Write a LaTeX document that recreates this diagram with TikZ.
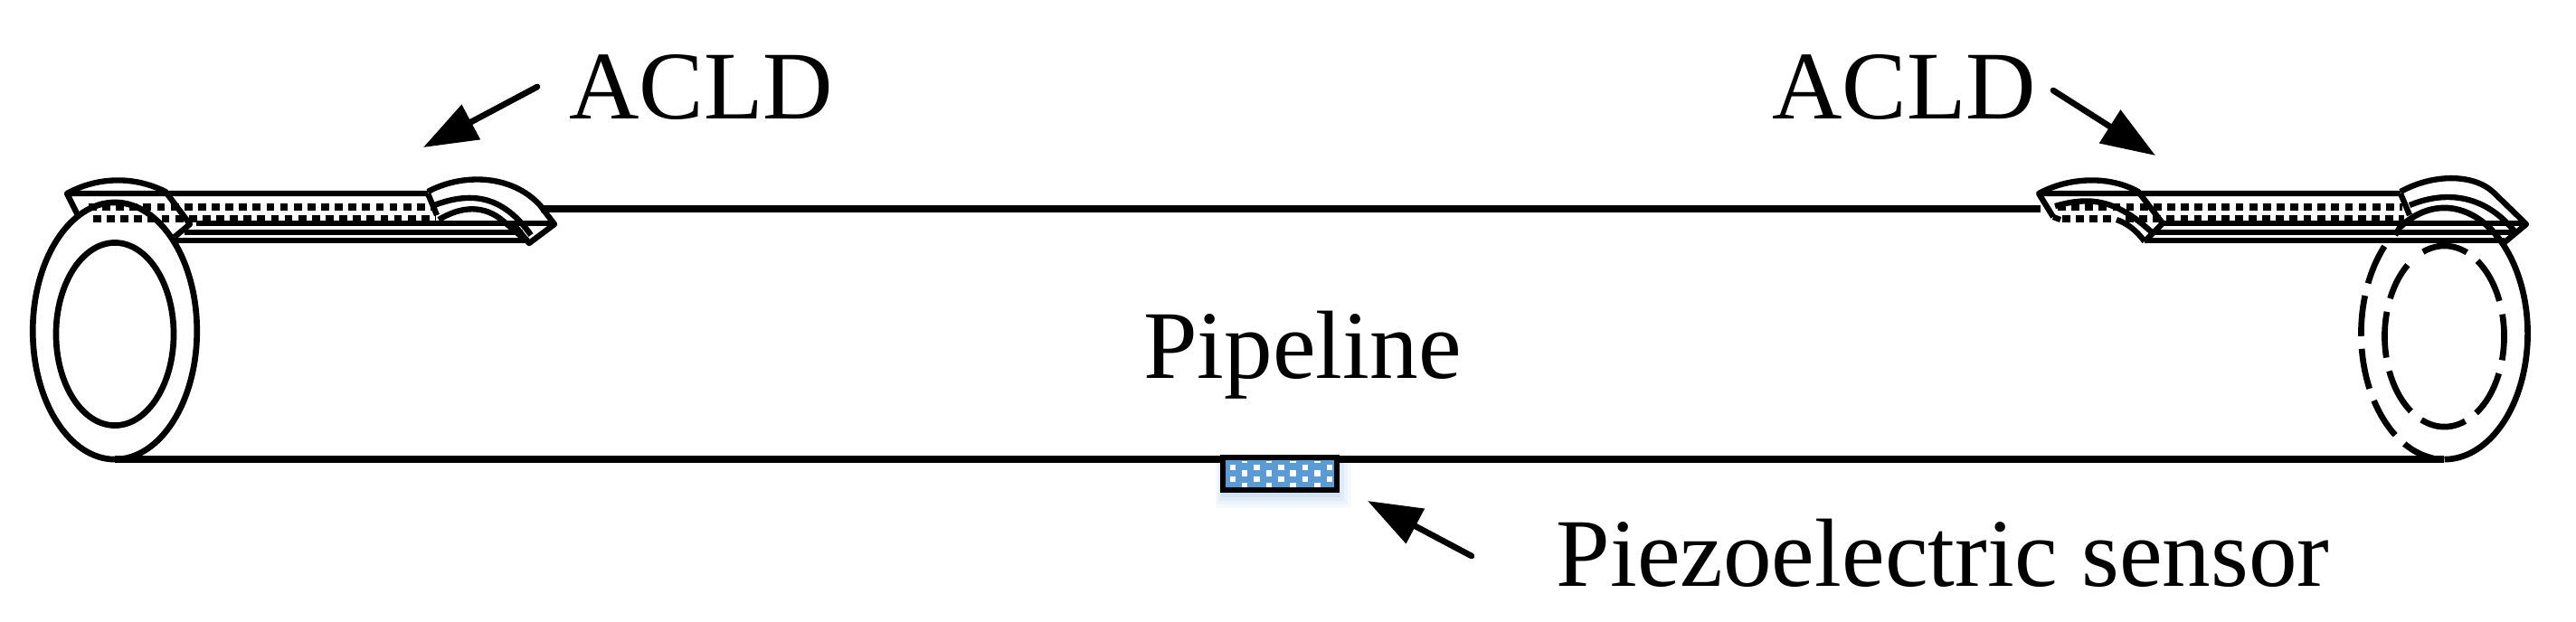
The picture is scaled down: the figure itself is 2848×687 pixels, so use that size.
\documentclass[tikz,border=0pt]{standalone}
\usepackage{fontspec}
\setmainfont{Liberation Serif}
\usetikzlibrary{arrows.meta}
\definecolor{sensorblue}{HTML}{5B9BD5}
\tikzset{
  pipeline/.style={line width=2.2pt,black},
  ringline/.style={line width=1.9pt,black},
  stripline/.style={line width=1.8pt,black,line join=round},
  dotrow/.style={line width=2pt,black,dash pattern=on 2.5pt off 1.8pt},
  dashring/.style={line width=1.9pt,black,dash pattern=on 12.8pt off 4pt},
  dashinner/.style={line width=1.9pt,black,dash pattern=on 14.5pt off 4.3pt},
  pointer/.style={line width=1.9pt,black,line cap=round,-{Triangle[length=17pt,width=12pt]}},
  label/.style={font=\fontsize{30.5pt}{32pt}\selectfont,anchor=base,inner sep=0pt,text=black},
}
\begin{document}
\begin{tikzpicture}[x=0.01cm,y=-0.01cm]
\useasboundingbox (0,0) rectangle (2848,687);
% soft shadow of the sensor
\foreach \g/\o in {16/0.05,12/0.07,8/0.09,4/0.10}
  \fill[sensorblue,opacity=\o] (1352-\g/2,512) rectangle (1478+\g,546+\g);
% pipe
\coordinate (pipeTL) at (598,231);
\coordinate (pipeTR) at (2256,231);
\coordinate (pipeBL) at (127,508);
\coordinate (pipeBR) at (2702,508);
\draw[pipeline] (pipeTL) -- (pipeTR);
\draw[pipeline] (pipeBL) -- (pipeBR);
% left end rings
\draw[ringline] (127,366) ellipse [x radius=0.907cm,y radius=1.42cm];
\draw[ringline] (127,369.5) ellipse [x radius=0.65cm,y radius=1.01cm];
% right end rings
\coordinate (rc) at (2702.5,369);
\coordinate (ric) at (2702.5,372);
\draw[ringline] ([shift={(122:0.92cm and 1.39cm)}]rc) arc[start angle=122,end angle=-90,x radius=0.92cm,y radius=1.39cm];
\draw[dashring] ([shift={(136:0.92cm and 1.39cm)}]rc) arc[start angle=136,end angle=262,x radius=0.92cm,y radius=1.39cm];
\draw[dashinner] ([shift={(111:0.66cm and 1.0cm)}]ric) arc[start angle=111,end angle=-232,x radius=0.66cm,y radius=1.0cm];
% left ACLD
\draw[stripline] (473,214) -- (74,214) -- (87,240);
\draw[stripline] (74,214) .. controls (105,197) and (145,193) .. (183,212) -- (210,248) -- (193,262);
\draw[stripline] (204,257) -- (578,257);
\draw[stripline] (191,266) -- (585,266);
\draw[stripline] (217,247) -- (613,247);
\draw[dotrow] (98,229) -- (478,229);
\draw[dotrow] (103,242) -- (482,242);
\draw[stripline] (473,214) -- (483,238);
\draw[stripline] (473,212) .. controls (510,192) and (565,192) .. (597,227) -- (613,248) -- (585,269) -- (567,247);
\draw[stripline] (480,227) .. controls (520,212) and (555,215) .. (587,260);
\draw[stripline] (485,243) .. controls (510,228) and (535,226) .. (557,245) -- (578,263);
% right ACLD
\draw[stripline] (2654,214) -- (2254,214) -- (2270,240);
\draw[stripline] (2254,214) .. controls (2285,197) and (2330,193) .. (2364,212) -- (2391,247) -- (2371,267);
\draw[stripline] (2272,228) .. controls (2310,217) and (2340,220) .. (2380,258);
\draw[stripline] (2270,240) -- (2278,243);
\draw[stripline] (2340,243) .. controls (2352,247) and (2362,255) .. (2371,267);
\draw[stripline] (2382,257) -- (2779,257);
\draw[stripline] (2371,266) -- (2769,266);
\draw[stripline] (2392,247) -- (2793,247);
\draw[dotrow] (2275,229) -- (2656,229);
\draw[dotrow] (2280,242) -- (2340,242);
\draw[dotrow] (2350,242) -- (2658,242);
\draw[stripline] (2654,214) -- (2664,238);
\draw[stripline] (2654,212) .. controls (2690,192) and (2735,192) .. (2757,213) -- (2793,248) -- (2769,268);
\draw[stripline] (2664,227) .. controls (2700,212) and (2745,212) .. (2781,257);
\draw[stripline] (2654,250) -- (2648,260);
% sensor
\fill[sensorblue] (1352,506) rectangle (1478,542);
\begin{scope}
\clip (1355,510) rectangle (1475,539);
\foreach \i in {0,...,4} {
  \fill[white] (1359.7+26.7*\i,513.7) rectangle +(6.4,6.4);
  \fill[white] (1359.7+26.7*\i,527) rectangle +(6.4,6.4);
}
\foreach \i in {0,...,3} {
  \fill[white] (1373+26.7*\i,506) rectangle +(6.4,6.4);
  \fill[white] (1373+26.7*\i,520.3) rectangle +(6.4,6.4);
  \fill[white] (1373+26.7*\i,533.7) rectangle +(6.4,6.4);
}
\end{scope}
\node[draw=black,line width=1.7pt,minimum width=1.26cm,minimum height=0.36cm,inner sep=0pt] (sensor) at (1415,524) {};
% labels
\node[label] (acldL) at (775,131) {ACLD};
\node[label] (acldR) at (2105,131) {ACLD};
\node[label] (pipe) at (1440,418) {Pipeline};
\node[label] (sens) at (2148,648) {Piezoelectric sensor};
% pointers
\coordinate (a1s) at (594,96);   \coordinate (a1e) at (468,163);
\coordinate (a2s) at (2270,100); \coordinate (a2e) at (2383,172);
\coordinate (a3s) at (1627,615); \coordinate (a3e) at (1512,554);
\draw[pointer] (a1s) -- (a1e);
\draw[pointer] (a2s) -- (a2e);
\draw[pointer] (a3s) -- (a3e);
\end{tikzpicture}
\end{document}
